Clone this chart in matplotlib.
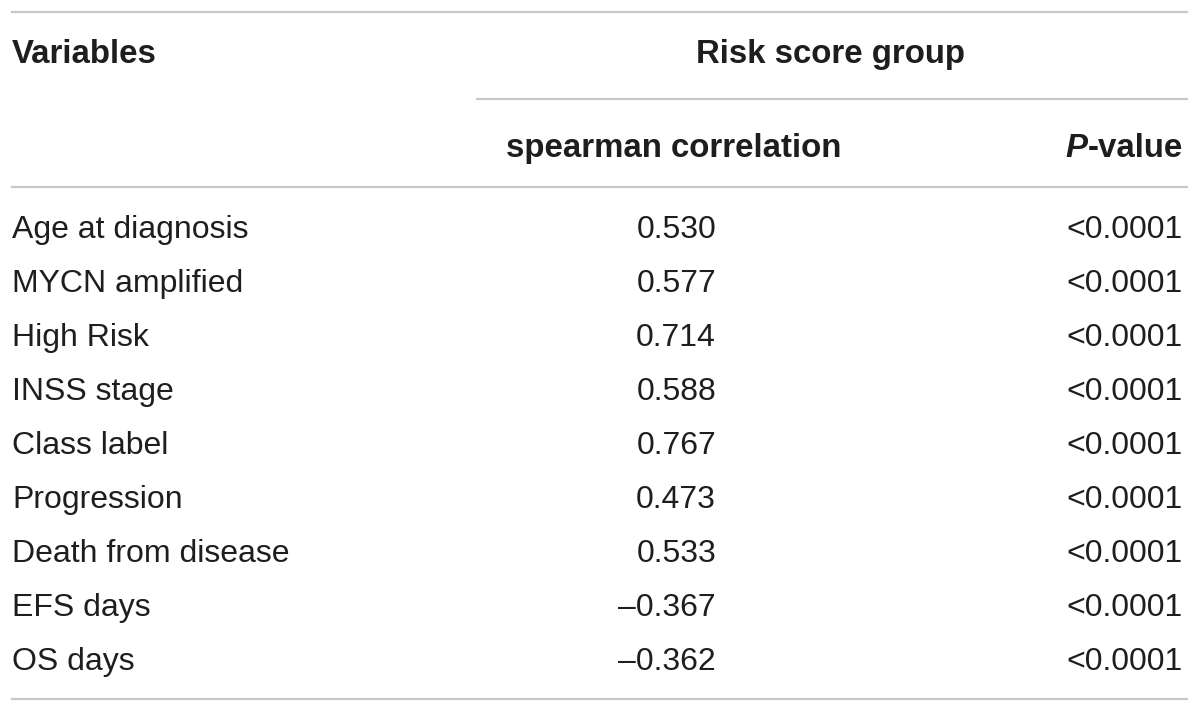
import matplotlib
matplotlib.use("Agg")
import matplotlib.pyplot as plt

# table content
variables = ["Age at diagnosis", "MYCN amplified", "High Risk", "INSS stage",
             "Class label", "Progression", "Death from disease", "EFS days", "OS days"]
spearman = [0.530, 0.577, 0.714, 0.588, 0.767, 0.473, 0.533, -0.367, -0.362]
p_values = ["<0.0001"] * 9

col_header = "Variables"
group_header = "Risk score group"
sub_header = "spearman correlation"
p_header = ("P", "-value")

plt.rcParams['font.family'] = ['Liberation Sans', 'DejaVu Sans']

fig = plt.figure(figsize=(12, 7.13), dpi=100)
ax = fig.add_axes([0, 0, 1, 1])
ax.set_xlim(0, 1200)
ax.set_ylim(713, 0)
ax.axis('off')

txt_col = '#1e1e1e'
line_col = '#c8c8c8'
fs = 23      # body
fsb = 23.8   # bold headers

# horizontal rules
ax.plot([12, 1187], [12, 12], color=line_col, lw=1.6)
ax.plot([477, 1187], [99, 99], color=line_col, lw=1.6)
ax.plot([12, 1187], [187, 187], color=line_col, lw=1.6)
ax.plot([12, 1187], [699, 699], color=line_col, lw=1.6)

# headers
ax.text(12, 63, col_header, fontsize=fsb, fontweight='bold', color=txt_col, va='baseline')
ax.text(831, 63, group_header, fontsize=fsb, fontweight='bold', color=txt_col,
        va='baseline', ha='center')
ax.text(674, 157, sub_header, fontsize=fsb, fontweight='bold', color=txt_col,
        va='baseline', ha='center')

# P-value: italic P placed just left of "-value"
tv = ax.text(1183, 157, p_header[1], fontsize=fsb, fontweight='bold', color=txt_col,
             va='baseline', ha='right')
fig.canvas.draw()
bb = tv.get_window_extent().transformed(ax.transData.inverted())
ax.text(min(bb.x0, bb.x1), 157, p_header[0], fontsize=fsb, fontweight='bold',
        fontstyle='italic', color=txt_col, va='baseline', ha='right')

# body rows
for i, (name, r, p) in enumerate(zip(variables, spearman, p_values)):
    y = 238 + 54 * i
    ax.text(12, y, name, fontsize=fs, color=txt_col, va='baseline')
    s = f"{abs(r):.3f}"
    if r < 0:
        s = "\u2013" + s
    ax.text(716, y, s, fontsize=fs, color=txt_col, va='baseline', ha='right')
    ax.text(1183, y, p, fontsize=fs, color=txt_col, va='baseline', ha='right')

fig.savefig("out.png", dpi=100, facecolor='white')
